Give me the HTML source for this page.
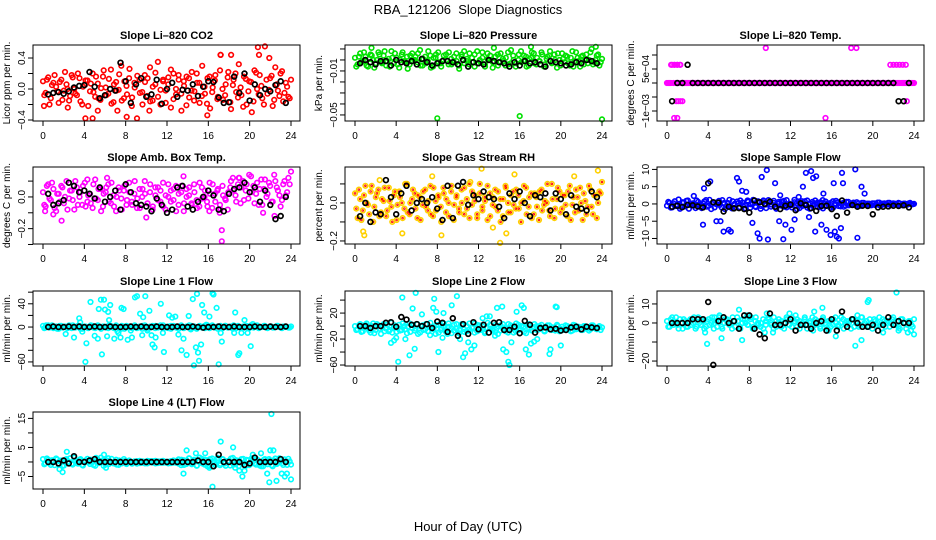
<!DOCTYPE html>
<html><head><meta charset="utf-8"><style>
html,body{margin:0;padding:0;background:#fff;}
svg{display:block;font-family:"Liberation Sans",Arial,sans-serif;}
</style></head><body>
<svg id="chart" width="936" height="540" viewBox="0 0 936 540" xmlns="http://www.w3.org/2000/svg">
<rect width="936" height="540" fill="#fff"/>
<text x="468" y="14" font-size="13" text-anchor="middle" xml:space="preserve" style="white-space:pre">RBA_121206  Slope Diagnostics</text>
<text x="468" y="531" font-size="13" text-anchor="middle">Hour of Day (UTC)</text>
</svg>
<script>
const hourTicks = [0,4,8,12,16,20,24];
// CO2 (x0.01)
const co2Vals = [10,-5,15,-12,8,3,-18,12,-2,6,-15,18,0,-8,14,-20,5,11,-3,20,-10,7,-14,16,2,-6,25,-17,9,-1,30,-12,4,14,-22,8,-38,12,-4,18,-9,28,-15,6,35,-20,10,-2,15,-24,20,-7,12,-28,4,16,-11,22,-3,8,-18,30,-6,14,-25,2,18,-10,44,-14,6,22,-26,12,-4,32,-8,16,-20,10,-30,24,0,18,-12,55,-6,14,-22,28,-2,20,-16,8,-10,12];
const co2Vals2 = [-8,12,-20,5,18,-3,9,-14,22,0,-9,15,-6,20,-16,3,11,-22,7,-4,16,-12,1,24,-8,13,-19,6,-2,19,-15,10,-7,26,-11,2,17,-5,-20,9,14,-16,3,21,-10,-1,12,-18,6,25,-13,0,18,-6,10,-21,14,-2,-15,20,8,-9,3,-19,16,-4,11,-13,24,0,-8,15,-17,5,20,-11,2,-23,13,-3,9,-16,21,-7,4,-20,12,-1,17,-14,6,-9,23,-5,3,-12];
const co2Outliers = [[4.1,-38],[4.8,-38],[8.1,-36],[15.9,-34],[20.8,54],[20.9,44],[17.2,44],[18.2,44],[21.9,40],[10.3,-28],[0.1,-22],[2.4,-24],[5.3,-28],[7.2,-28]];
const co2Black = [-7,-5,-4,-6,-3,2,4,5,22,3,-12,-8,0,-2,34,10,-18,6,14,-10,-7,12,-19,0,8,-10,-1,-2,6,-9,3,10,9,-11,-18,-17,16,-5,20,-15,6,-8,0,-3,5,10,-18];
// Pressure (x0.001)
const presVals = [2,-4,6,-1,3,-6,5,0,-3,7,-2,4,-5,1,8,-3,2,-7,5,-1,3,-4,6,0,-2,9,-5,3,-1,4,-6,2,7,-3,0,5,-4,1,-2,6,-5,3,8,-1,-4,2,5,-3,0,7,-6,1,4,-2,3,-5,6,-1,2,-4,9,0,-3,5,-2,4,-6,1,7,-3,2,-1,5,-4,3,8,-2,0,6,-5,1,4,-3,2,-6,7,-1,3,-4,5,0,10,-2,4,-5,1];
const presVals2 = [-6,3,-2,7,-5,1,4,-7,0,5,-3,8,-1,-6,2,6,-4,0,7,-2,-8,4,-1,3,6,-5,1,-3,8,-7,2,5,-2,-6,4,0,7,-4,3,-1,-8,5,-3,1,6,-2,-6,8,-1,2,-4,6,0,-7,3,5,-2,1,-5,7,-3,4,-6,0,8,-1,3,-5,2,6,-4,-1,7,-6,1,4,-3,5,-7,0,6,-2,3,-5,8,-1,2,-6,4,1,-3,7,-4,0,5,-2];
const presOutliers = [[8,-53],[16,-51],[24,-54],[1.6,11],[13.5,11],[17.1,12],[23.4,12]];
const presBlack = [-3,0,-2,-4,-1,-1,-5,0,-2,-3,-1,-4,1,-2,-5,-3,-1,-1,-2,-4,0,-6,-2,-3,-4,0,-1,-2,-3,-6,-2,-5,-1,-3,-2,-4,-6,-1,-2,-3,-5,-4,-2,-3,0,-1,-3];
// Li-820 Temp (x1e-4)
const tempVals = [0,0,6.5,6.5,6.5,6.5,0,0,0,0,0,0,0,0,0,0,0,0,0,0,0,0,0,0,0,0,0,0,0,0,0,0,0,0,0,0,0,0,0,0,0,0,0,0,0,0,0,0,0,0,0,0,0,0,0,0,0,0,0,0,0,0,0,0,0,0,0,0,0,0,null,0,0,0,0,0,0,0,0,0,0,0,0,0,0,0,0,0,0,0,0,0,0,0,0,0,0];
const tempVals2 = [0,0,0,0,0,0,0,0,0,0,0,0,0,0,0,0,0,0,0,0,0,0,0,0,0,0,0,0,0,0,0,0,0,0,0,0,0,0,0,0,0,0,0,0,0,0,0,0,0,0,0,0,0,0,0,0,0,0,0,0,0,0,0,0,0,0,0,0,0,0,null,0,0,0,0,0,0,0,0,0,0,0,0,0,0,0,0,0,0,0,0,0,0,0,0,0];
const tempOutliers = [[0.9,-6.5],[1.1,-6.5],[1.3,-6.5],[1.5,-6.5],[0.7,-12.5],[1.0,-12.5],[15.4,-12.5],[9.6,12.5],[17.9,12.5],[18.4,12.5],[21.7,6.5],[22.0,6.5],[22.3,6.5],[22.6,6.5],[22.9,6.5],[23.2,6.5],[23.3,-6.5],[0.4,6.5],[0.7,6.5],[1.0,6.5],[1.3,6.5]];
const tempBlack = [-6.5,0,0,6.5,0,0,0,0,0,0,0,0,0,0,0,0,0,0,0,0,0,0,0,0,0,0,0,0,0,0,0,0,0,0,0,0,0,0,0,0,0,0,0,0,-6.5,-6.5,0];
// Amb box temp (x0.01)
const ambVals = [3,-6,8,-2,5,-9,2,7,-4,10,-1,4,-8,6,0,-5,9,-3,2,-7,11,-2,5,-6,3,8,-4,1,-9,6,-1,4,-5,9,-3,2,-7,5,0,10,-4,3,-8,6,-2,4,-6,1,8,-3,5,-9,2,7,-4,0,6,-5,3,-7,9,-1,4,-6,2,8,-3,5,-8,1,-2,3,10,4,-3,12,6,-2,8,14,3,-4,9,5,-5,11,2,7,-3,10,4,-6,8,1,12,16];
const ambVals2 = [-5,7,-1,9,-7,2,-3,6,0,-8,4,-2,10,-5,3,7,-6,1,-4,8,-1,5,-9,2,6,-3,9,-6,0,4,-8,7,-2,3,-5,10,-1,-7,5,2,-4,8,-6,1,6,-3,9,-8,0,4,-2,7,-5,3,-9,5,1,-4,8,-2,-6,6,0,-3,9,-7,2,4,-5,7,-1,-8,6,12,1,8,-4,10,4,-1,13,7,2,-5,11,5,0,9,-3,14,6,1,-2,10,3,8];
const ambOutliers = [[17.3,-21],[17.3,-28],[1.8,-15],[0.2,-9],[1,-11],[21.3,-10],[22.4,-12],[6.2,12],[4.3,11],[13.6,13],[19,12],[10,-13],[17.1,-10],[16.1,-9]];
const ambBlack = [2,-5,-4,-2,9,7,3,4,2,-1,6,-3,0,4,-8,8,3,-4,-5,-6,-9,-1,-5,-10,-8,6,7,-6,-8,-3,0,4,1,-8,-9,2,5,6,9,3,6,-3,4,-5,-14,-12,0];
// Gas stream RH (x0.01)
const rhVals = [5,-8,2,-4,9,-1,6,-10,3,7,-5,1,-7,8,-2,4,-9,6,0,-3,10,-6,2,5,-8,3,-1,7,-4,9,-7,1,4,-2,8,-5,0,6,-9,3,-3,7,-6,2,10,-1,4,-8,5,-4,1,9,-7,3,-2,6,-10,2,8,-5,4,-1,7,-3,0,9,-6,3,-8,5,-2,6,-4,1,10,-7,2,-3,8,-5,4,-1,6,-9,3,7,-4,0,5,-6,9,-2,4,-8,6,11];
const rhVals2 = [-3,7,-9,4,0,-6,9,-2,5,-7,2,8,-4,1,-10,6,-1,3,-8,10,-5,0,7,-3,4,-9,6,-2,1,-6,8,-4,3,-10,5,2,-7,9,-1,4,-5,0,8,-3,-8,6,1,-6,10,-2,3,-9,5,-1,7,-4,2,-7,9,0,-5,6,-3,4,-10,1,8,-2,5,-6,3,-9,7,-1,0,-4,10,-8,2,6,-3,4,-7,9,-1,-5,3,8,-9,1,-2,7,-6,4,0,5];
const rhOutliers = [[0.9,-17],[0.8,-15],[4.6,-16],[8.4,-17],[12.3,18],[14.1,-21],[15.5,15],[13.4,-13],[14.7,-16],[21.3,14],[23.6,17],[7.5,14],[2.4,12],[11.2,11]];
const rhBlack = [-7,0,-10,-5,-6,12,3,-6,5,9,-4,0,2,0,3,-3,-9,9,-8,9,11,-1,4,2,6,3,2,-2,-8,5,2,6,0,-7,4,3,5,-4,5,2,-6,4,-2,-3,-4,6,3];
// Sample flow
const sampleVals = [-0.5,0.3,-1,0.8,-0.2,-1.4,0.5,-0.7,1,-0.3,0.2,-1.2,0.6,-0.8,0.1,1.1,-0.5,-1.5,0.4,-0.1,0.9,-1,0.3,-0.6,1.2,-1.3,0,0.7,-0.9,0.4,-0.4,1,-1.1,0.2,-0.7,0.8,-1.4,0.5,-0.2,1.1,-0.8,0.3,-1.2,0.6,-0.5,0.9,-1,0.1,-0.3,1.2,-1.5,0.4,-0.6,0.8,-1.1,0.2,-0.4,1,-0.9,0.5,-1.3,0.7,-0.2,0.3,-1,0.9,-0.6,0.1,-0.8,0.6,-0.4,0.2,-0.3,0.5,-0.6,0.3,-0.2,0.1,-0.4,0.2,-0.3,0.4,-0.5,0.1,-0.2,0.3,-0.4,0.2,-0.1,0.3,-0.3,0.1,-0.2,0.2,-0.1,0];
const sampleVals2 = [0.6,-1.1,0.2,-0.6,1.3,-0.9,0.4,0.9,-1.4,0.1,-0.5,1,-0.2,-1.2,0.7,-0.8,1.2,0,-1,0.5,-0.3,1.1,-1.5,0.3,-0.7,0.8,-1.1,0.2,1,-0.4,-1.3,0.6,-0.1,1.2,-0.9,0.3,-0.6,1,-1.2,0.4,-0.2,0.9,-1.4,0.1,0.7,-0.8,1.1,-0.5,-1,0.5,0.2,-1.2,0.8,-0.3,1,-1.4,0.6,-0.1,0.4,-0.9,1.1,-0.6,0.2,-1.1,0.8,-0.2,0.5,-0.7,0.3,-0.5,0.6,-0.2,0.4,-0.4,0.2,-0.5,0.3,-0.3,0.1,-0.4,0.2,-0.2,0.4,-0.3,0.2,-0.1,0.3,-0.2,0.1,-0.3,0.2,-0.4,0.1,-0.2,0.3,-0.1];
const sampleOutliers = [[3.6,4.5],[4.2,6.5],[5.2,-5],[5.5,-8],[6,-7.5],[6.2,-8],[6.8,7.5],[7,6.5],[7.3,3.8],[7.7,3.5],[8.3,-5.5],[8.8,-8.5],[9,-10],[9.2,7.8],[9.7,9.8],[9.8,-10.3],[10.5,6],[10.9,-5],[11.3,-10.2],[11.5,-6],[12.1,-7.5],[12.4,-4.5],[13.2,5],[13.5,9],[13.8,-3.8],[14,9.5],[14.2,7.5],[14.5,8],[14.4,-8],[15,-6],[15.2,3],[15.5,-7.5],[15.9,-9],[16.2,6],[16.3,-8],[16.5,-9.5],[16.7,-10],[17,9],[17.1,6],[16.9,-7],[18.3,10],[18.5,-9.8],[18.9,5],[19.2,3],[2.6,2.3],[4.8,-5],[3.5,-6],[11,2.5],[12.8,2]];
const sampleBlack = [-0.8,-0.5,-0.9,-0.3,-0.4,-0.7,-1,6,0.5,0.4,-2.2,-0.8,-1.3,-1.2,-1.5,-2.5,1,0.5,0,0.7,-0.8,-1.5,-0.5,-0.2,-1.8,0.2,-0.3,-1.2,-2,-0.6,-0.5,-1.5,-3.5,1,-2.5,-0.3,-0.8,-0.5,-0.6,-3,-1,-0.8,-0.7,-0.5,-0.6,-0.4,-1];
// Line 1 flow
const line1Vals = [2,-1,3,0,-2,1,-3,2,0,-1,3,-2,1,0,2,-3,1,-1,0,2,-2,3,-1,1,0,-2,2,-1,3,0,-3,1,2,-1,0,2,-2,1,-3,3,0,-1,2,-2,1,0,3,-1,-2,2,0,1,-3,2,-1,0,3,-2,1,-1,2,0,-2,3,-1,1,0,-3,2,-1,2,0,-1,3,-2,1,0,-1,2,-2,1,0,3,-1,0,2,-2,1,-1,0,2,-1,1,0,-1,1];
const line1Vals2 = [-2,1,-1,3,0,-3,2,-1,1,-2,0,3,-1,2,-3,0,1,-2,3,-1,0,2,-3,1,-1,3,0,-2,1,-1,2,-3,0,1,-2,3,-1,0,2,-1,-3,1,0,2,-1,3,-2,0,1,-3,2,-1,0,3,-2,1,-1,2,0,-3,1,-1,2,0,-2,3,-1,1,0,-2,2,-1,1,-3,0,2,-1,1,0,-2,3,-1,1,-2,0,2,-1,0,1,-1,2,0,-2,1,0,-1];
const line1Outliers = [[0.3,3],[2.2,-12],[3,-18],[3.5,15],[3.6,8],[3.8,-8],[4.2,-28],[4.1,-60],[4.6,43],[5,-15],[5.3,-20],[5.4,31],[5.6,47],[5.9,47],[5.7,-47],[6,30],[6.2,-16],[6.3,26],[6.5,38],[6.4,12],[6.9,-20],[7.2,-7],[7.3,-10],[7.5,-18],[7.6,33],[7.8,31],[8.2,-22],[8.5,-6],[8.6,-18],[8.9,51],[9.1,53],[9.4,23],[9.6,-14],[9.7,17],[9.9,53],[10.1,-6],[10.3,28],[10.5,-14],[10.6,-30],[10.8,-35],[10.9,-18],[11.4,40],[11.6,-10],[11.7,-43],[12.2,20],[12.5,16],[12.8,18],[13.1,-13],[13.4,-40],[13.6,-20],[13.9,-48],[14.1,19],[14.3,-4],[14.5,48],[14.6,-66],[14.9,57],[14.8,-35],[15,-44],[15.1,-58],[15.3,-30],[15.4,38],[15.6,25],[15.8,4],[16.1,18],[16.4,58],[16.5,56],[16.8,33],[17,-64],[17.2,-10],[17.3,-25],[18.5,-10],[18.6,25],[18.9,-48],[19,-45],[19.2,-10],[19.5,12],[19.8,-10],[20.1,-33],[20.3,5]];
const line1Black = [0,1,0,0,1,0,1,0,0,1,0,0,1,0,0,0,1,0,1,0,0,1,0,0,0,1,0,0,1,0,-1,0,0,1,0,0,1,0,0,0,1,0,0,1,0,0,1];
// Line 2 flow
const line2Vals = [0,-5,3,-8,2,-3,-10,4,-6,1,-12,3,-4,-8,5,-2,-9,2,-6,0,-11,4,-3,-7,3,-10,1,-5,-8,5,-2,-12,2,-6,0,-9,4,-4,-7,3,-11,1,-5,-8,4,-3,-10,2,-6,0,-9,5,-4,-7,2,-12,1,-5,-8,3,-2,-10,4,-6,0,-9,2,-4,-7,3,-6,0,-3,-8,1,-5,-2,-7,0,-4,-6,1,-3,-8,2,-5,-1,-6,0,-4,-7,1,-3,-5,0,-2];
const line2Vals2 = [-6,1,-9,-2,4,-7,0,-11,3,-4,-1,-8,2,-6,-10,1,-3,-7,4,-5,-1,-9,2,-4,-12,0,-6,3,-8,-2,-5,1,-10,-3,4,-7,-1,-11,2,-4,-6,3,-9,0,-5,-2,4,-8,1,-6,-11,-3,2,-5,-9,0,-7,3,-4,-10,1,-3,-8,2,-5,-1,-11,3,-6,-2,0,-5,2,-7,-3,1,-6,-4,2,-8,-1,-5,0,-3,-7,1,-4,-2,-6,0,-3,-5,1,-4,-2,-6];
const line2Outliers = [[3.5,-26],[3.8,-22],[4,-18],[4.2,-55],[4.6,44],[4.9,-20],[5.3,-45],[5.6,27],[5.8,-35],[5.9,51],[6.5,18],[7.3,-14],[7.6,28],[7.7,42],[7.9,22],[8.1,-40],[8.5,-18],[8.6,20],[9,-12],[9.4,32],[9.9,46],[10.2,-20],[10.5,-48],[10.7,-42],[11,-25],[11.3,-36],[11.6,-30],[12.4,12],[12.8,15],[13.1,15],[13.6,-15],[13.8,28],[14.3,30],[14.4,-36],[14.7,-40],[14.9,-55],[15,-60],[15.2,-25],[15.7,22],[16.2,32],[16.4,28],[16.6,-36],[16.9,-44],[17.1,-27],[17.4,-24],[17.7,-20],[18.4,-8],[18.9,-43],[19,-36],[19.5,30],[19.6,29],[20,-30]];
const line2Black = [0,0,-3,0,0,5,6,-1,14,10,2,3,0,3,-3,7,5,-9,12,-15,3,-12,6,-5,2,-10,5,6,-6,-6,-1,-11,8,2,-10,-3,-2,-5,-4,-7,-6,-2,-1,-5,-1,-2,-3];
// Line 3 flow
const line3Vals = [1,-2,3,0,-1,2,-3,1,-2,2,0,-3,3,-1,1,-2,2,0,-3,1,3,-2,0,2,-1,-3,1,3,-2,0,2,-1,3,-3,1,0,-2,2,-1,3,0,-3,1,2,-2,0,3,-1,-2,1,2,-3,0,3,-1,1,-2,2,0,-3,3,-1,1,-2,2,0,-1,3,-3,1,0,2,-2,1,-1,3,0,-2,2,-3,1,0,-1,2,-2,1,0,3,-1,-2,2,0,-3,1,-1,2];
const line3Vals2 = [-2,2,-1,3,-3,0,2,-2,1,-1,3,-2,0,2,-3,1,-1,3,0,-2,1,-3,2,0,-1,3,-2,1,-3,2,0,-1,2,-2,3,-1,0,-3,1,2,-1,3,-2,0,1,-3,2,-1,3,0,-2,1,-1,2,-3,0,3,-1,1,-2,2,0,-3,1,-1,3,-2,0,2,-1,1,-3,2,0,-2,3,-1,1,-2,0,2,-1,3,-3,1,0,-2,2,-1,1,-3,2,0,-1,1,-2];
const line3Outliers = [[3.7,-5],[3.9,-11],[4.6,3],[5.3,-8],[5.1,4],[7,7],[7.3,-9],[7.8,4],[8.2,3],[9.7,5],[9.5,-5],[10.3,-5],[11.9,5],[12.5,4],[14.3,6],[14.2,-4],[15.1,8],[15.7,-4],[16.4,-7],[18.3,-12],[18.5,4],[18.9,-9],[19.5,11],[19.6,12],[21,-5],[22.3,16],[22.5,-4],[23.4,-5],[23.7,-4],[24,-6]];
const line3Black = [0,0,0,0,2,2,2,11,-22,1,3,0,1,-3,4,4,-3,-6,-8,5,-1,-1,0,2,-4,-1,-1,-3,0,1,-4,2,-4,6,-2,2,0,-2,-2,-1,-4,-1,3,-1,1,0,0];
// Line 4 flow
const line4Vals = [1,-0.5,0.8,-1,0.3,1.2,-0.8,0.5,-1.2,1,0,-0.6,1.5,-0.3,0.7,-1,0.2,1.1,-0.7,0.4,-1.3,0.9,-0.2,0.6,-0.9,1.3,0,-0.5,0.8,-1,0.3,1,-0.7,0.5,-0.4,0.2,-0.6,0.4,-0.3,0.1,-0.5,0.3,-0.2,0.4,-0.4,0.2,-0.3,0.1,-0.5,0.3,-0.2,0.4,-0.6,0.8,-1,0.5,1.2,-0.8,0.3,-1.2,1.5,-0.5,0.8,-1.5,1,0.2,-1,1.4,-0.6,0.9,-1.3,0.4,1.2,-0.9,0.6,-1.4,1,-0.3,0.7,-1.1,1.3,-0.5,0.9,-1.2,0.2,1,-0.8,0.5,-1.5,1.2,-0.4,0.7,-1,0.3,1.1,-0.9];
const line4Vals2 = [-0.8,1.2,-0.3,0.6,-1.1,0.9,0.2,-1.4,0.7,-0.2,1.3,-0.9,0.4,-0.6,1,-1.2,0.5,-0.1,0.8,-1,1.4,-0.4,0.3,-1.3,0.6,-0.7,1.1,0.1,-0.9,0.5,-0.5,0.3,-0.2,0.4,-0.6,0.1,0.3,-0.4,0.2,-0.5,0.4,-0.1,0.3,-0.5,0.2,-0.3,0.4,-0.2,0.1,-0.4,0.5,-0.3,0.9,-1.1,0.6,-0.7,1.3,-0.4,0.8,-1.3,0.2,1.1,-0.9,0.6,-1.4,1.2,-0.3,0.7,-1.1,1,-0.5,0.3,-1.2,1.4,-0.8,0.4,-0.2,1.1,-1.3,0.6,-0.6,1.2,-0.9,0.3,-1.5,0.8,-0.1,1,-1.1,0.5,-0.7,1.3,-0.4,0.9,-1,0.2];
const line4Outliers = [[1.6,-2.5],[1.9,-3.5],[2.3,3.5],[5.6,1.5],[5.9,2.5],[6.1,-2],[13.6,-4],[13.9,4],[14.8,3],[15.7,3],[16.1,-2],[16.4,-8.5],[17.2,7],[18.4,5],[18.6,-2],[19,-3],[19.3,-5],[19.5,-3],[20.3,2.5],[21.1,3],[21.7,-4],[21.9,-7],[22.1,16.5],[22.3,4],[22.6,-6.5],[23.1,-4],[23.4,-5],[23.6,-4],[24,-6],[22,4],[21.3,-1.5]];
const line4Black = [0,0,-0.5,0.5,-0.5,2,0,0,0.5,1,0,0,0,0,0,0,0,0,0,0,0,0,0,0,0,0,0,0,0,0.5,0,0,-1.5,2.5,0,0,0,0,-1,-0.5,1.5,0,0,0,0,1,0];

const NS = 'http://www.w3.org/2000/svg';
const svg = document.getElementById('chart');
function mk(tag, attrs, parent) {
  const e = document.createElementNS(NS, tag);
  for (const k in attrs) e.setAttribute(k, attrs[k]);
  (parent || svg).appendChild(e);
  return e;
}
const cols = [{box:[33,300], x0:43, x24:291},{box:[345,612], x0:355, x24:602},{box:[657,924], x0:667, x24:914}];
const rows = [[45,121],[167,244],[291,366],[412,489]];

const panels = [
 {key:'co2', title:'Slope Li\u2013820 CO2', ylab:'Licor ppm per min.', c:0, r:0, dom:[-0.413,0.568], scale:0.01, color:'#ff0000', vals:co2Vals, vals2:co2Vals2, out:co2Outliers, blk:co2Black, ticks:[-0.4,-0.2,0,0.2,0.4], labels:[[-0.4,'\u22120.4'],[0,'0.0'],[0.4,'0.4']]},
 {key:'pressure', title:'Slope Li\u2013820 Pressure', ylab:'kPa per min.', c:1, r:0, dom:[-0.0555,0.0136], scale:0.001, color:'#00e000', vals:presVals, vals2:presVals2, out:presOutliers, blk:presBlack, ticks:[0.01,0,-0.01,-0.02,-0.03,-0.04,-0.05], labels:[[-0.01,'\u22120.01'],[-0.05,'\u22120.05']]},
 {key:'temp', title:'Slope Li\u2013820 Temp.', ylab:'degrees C per min.', c:2, r:0, dom:[-0.001357,0.001357], scale:0.0001, color:'#ff00ff', vals:tempVals, vals2:tempVals2, out:tempOutliers, blk:tempBlack, ticks:[0.001,0.0005,0,-0.0005,-0.001], labels:[[0.0005,'5e\u221204'],[-0.001,'\u22121e\u221203']]},
 {key:'amb', title:'Slope Amb. Box Temp.', ylab:'degrees C per min.', c:0, r:1, dom:[-0.297,0.189], scale:0.01, color:'#ff00ff', vals:ambVals, vals2:ambVals2, out:ambOutliers, blk:ambBlack, ticks:[0.1,0,-0.1,-0.2,-0.3], labels:[[0,'0.0'],[-0.2,'\u22120.2']]},
 {key:'rh', title:'Slope Gas Stream RH', ylab:'percent per min.', c:1, r:1, dom:[-0.216,0.189], scale:0.01, color:'#ffd000', inner:'#ff0000', vals:rhVals, vals2:rhVals2, out:rhOutliers, blk:rhBlack, ticks:[0.1,0,-0.1,-0.2], labels:[[0,'0.0'],[-0.2,'\u22120.2']]},
 {key:'sample', title:'Slope Sample Flow', ylab:'ml/min per min.', c:2, r:1, dom:[-11.6,10.7], scale:1, color:'#0000ff', vals:sampleVals, vals2:sampleVals2, out:sampleOutliers, blk:sampleBlack, ticks:[10,5,0,-5,-10], labels:[[10,'10'],[5,'5'],[0,'0'],[-5,'\u22125'],[-10,'\u221210']]},
 {key:'line1', title:'Slope Line 1 Flow', ylab:'ml/min per min.', c:0, r:2, dom:[-67,62], scale:1, color:'#00ffff', vals:line1Vals, vals2:line1Vals2, out:line1Outliers, blk:line1Black, ticks:[60,40,20,0,-20,-40,-60], labels:[[40,'40'],[0,'0'],[-60,'\u221260']]},
 {key:'line2', title:'Slope Line 2 Flow', ylab:'ml/min per min.', c:1, r:2, dom:[-61.5,54], scale:1, color:'#00ffff', vals:line2Vals, vals2:line2Vals2, out:line2Outliers, blk:line2Black, ticks:[40,20,0,-20,-40,-60], labels:[[20,'20'],[-20,'\u221220'],[-60,'\u221260']]},
 {key:'line3', title:'Slope Line 3 Flow', ylab:'ml/min per min.', c:2, r:2, dom:[-22.6,16.8], scale:1, color:'#00ffff', vals:line3Vals, vals2:line3Vals2, out:line3Outliers, blk:line3Black, ticks:[10,0,-10,-20], labels:[[10,'10'],[0,'0'],[-20,'\u221220']]},
 {key:'line4', title:'Slope Line 4 (LT) Flow', ylab:'ml/min per min.', c:0, r:3, dom:[-9.3,17.2], scale:1, color:'#00ffff', vals:line4Vals, vals2:line4Vals2, out:line4Outliers, blk:line4Black, ticks:[15,10,5,0,-5], labels:[[15,'15'],[5,'5'],[-5,'\u22125']]}
];

panels.forEach(p => {
  const col = cols[p.c], row = rows[p.r];
  const [bl, br] = col.box, [bt, bb] = row;
  const xs = h => col.x0 + (h / 24) * (col.x24 - col.x0);
  const ys = v => bb - (v - p.dom[0]) / (p.dom[1] - p.dom[0]) * (bb - bt);
  const g = mk('g', {});
  
  
  const t = mk('text', {x:(bl+br)/2, y:bt-6, 'font-size':11, 'font-weight':'bold', 'text-anchor':'middle'}, g);
  
  
  t.textContent = p.title;
  const yl = mk('text', {x:0, y:0, 'font-size':10, 'text-anchor':'middle', transform:`translate(${bl-23},${(bt+bb)/2}) rotate(-90)`}, g);
  
  
  yl.textContent = p.ylab;
  const pts = mk('g', {fill:'none'}, g);
  
  
  const dot = (x, y, color, r, w) => {
    if (y === null || y === undefined) return;
    const cy = ys(y * p.scale);
    const c = mk('circle', {cx:xs(x).toFixed(1), cy:cy.toFixed(1), r:r, stroke:color, 'stroke-width':w}, pts);
    
    
  };
  const n = p.vals.length, n2 = p.vals2.length;
  p.vals.forEach((v, i) => dot(i * 24 / (n - 1), v, p.color, 2.3, 1.6));
  p.vals2.forEach((v, i) => dot((i + 0.5) * 24 / n2, v, p.color, 2.3, 1.6));
  p.out.forEach(o => dot(o[0], o[1], p.color, 2.3, 1.6));
  if (p.inner) {
    p.vals.forEach((v, i) => dot(i * 24 / (n - 1), v, p.inner, 0.8, 0.9));
    p.vals2.forEach((v, i) => dot((i + 0.5) * 24 / n2, v, p.inner, 0.8, 0.9));
  }
  p.blk.forEach((v, i) => dot(0.5 + i * 0.5, v, '#000', 2.4, 1.7));
  const box = mk('rect', {x:bl, y:bt, width:br-bl, height:bb-bt, fill:'none', stroke:'#000', 'stroke-width':1}, g);
  
  
  const xa = mk('g', {}, g);
  
  
  mk('line', {x1:xs(0), x2:xs(24), y1:bb, y2:bb, stroke:'#000'}, xa);
  hourTicks.forEach(h => {
    mk('line', {x1:xs(h), x2:xs(h), y1:bb, y2:bb+5, stroke:'#000'}, xa);
    const tl = mk('text', {x:xs(h), y:bb+18, 'font-size':10, 'text-anchor':'middle'}, xa);
    
    
    tl.textContent = h;
  });
  const ya = mk('g', {}, g);
  
  
  mk('line', {x1:bl, x2:bl, y1:ys(p.ticks[0]), y2:ys(p.ticks[p.ticks.length-1]), stroke:'#000'}, ya);
  p.ticks.forEach(v => mk('line', {x1:bl-5, x2:bl, y1:ys(v), y2:ys(v), stroke:'#000'}, ya));
  p.labels.forEach(l => {
    const tl = mk('text', {x:0, y:0, 'font-size':10, 'text-anchor':'middle', transform:`translate(${bl-8},${ys(l[0])}) rotate(-90)`}, ya);
    
    
    tl.textContent = l[1];
  });
});
</script>
</body></html>
